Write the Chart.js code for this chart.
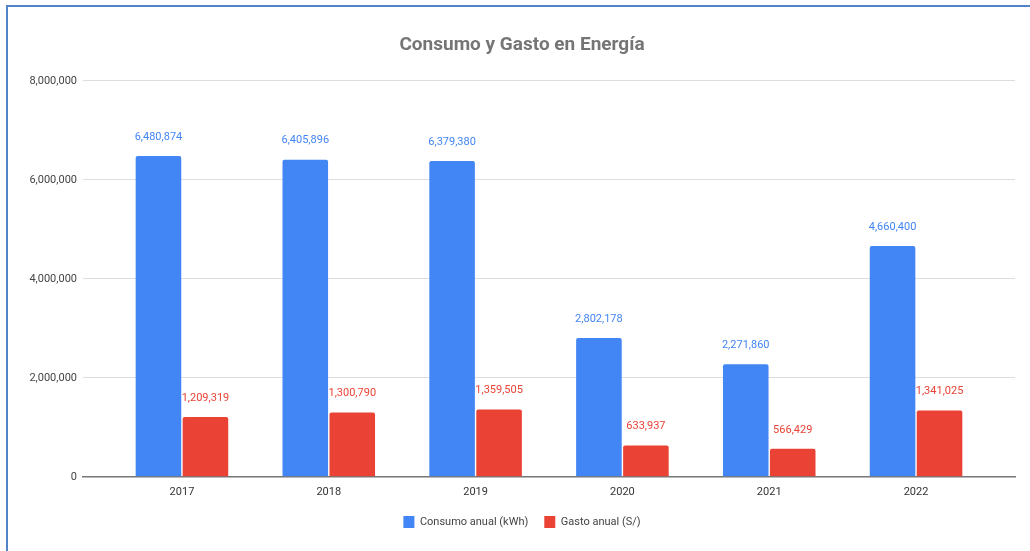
<!DOCTYPE html>
<html>
<head>
<meta charset="utf-8">
<script src="https://cdn.jsdelivr.net/npm/chart.js@4.4.1/dist/chart.umd.min.js"></script>
<style>
  html, body { margin: 0; padding: 0; background: #ffffff; overflow: hidden; }
  #wrap { position: relative; width: 1030px; height: 551px; }
  #frame { position: absolute; left: 6px; top: 5px; right: -10px; bottom: -10px;
           border-left: 2px solid #4f84c6; border-top: 2px solid #4f84c6; pointer-events: none; }
  canvas { position: absolute; left: 0; top: 0; }
</style>
</head>
<body>
<div id="wrap">
  <canvas id="c" width="1030" height="551"></canvas>
  <div id="frame"></div>
</div>
<script>
const years = ['2017', '2018', '2019', '2020', '2021', '2022'];
const consumo = [6480874, 6405896, 6379380, 2802178, 2271860, 4660400];
const gasto = [1209319, 1300790, 1359505, 633937, 566429, 1341025];
const yTicks = [0, 2000000, 4000000, 6000000, 8000000];
const seriesNames = ['Consumo anual (kWh)', 'Gasto anual (S/)'];
const titleText = 'Consumo y Gasto en Energía';

const BLUE = '#4285f4';
const RED = '#ea4335';
const fmt = v => v.toLocaleString('en-US');

const valueLabels = {
  id: 'valueLabels',
  afterDatasetsDraw(chart) {
    const ctx = chart.ctx;
    ctx.save();
    ctx.font = '11px Roboto';
    ctx.textAlign = 'center';
    ctx.textBaseline = 'middle';
    chart.data.datasets.forEach((ds, di) => {
      const meta = chart.getDatasetMeta(di);
      ctx.fillStyle = ds.labelColor;
      meta.data.forEach((bar, i) => {
        ctx.fillText(fmt(ds.data[i].y), bar.x, bar.y - 19);
      });
    });
    ctx.restore();
  }
};

function draw() {
  new Chart(document.getElementById('c'), {
    type: 'bar',
    data: {
      datasets: [
        { label: seriesNames[0], data: consumo.map((v, i) => ({ x: i, y: v })),
          backgroundColor: BLUE, labelColor: BLUE, yAxisID: 'y' },
        { label: seriesNames[1], data: gasto.map((v, i) => ({ x: i, y: v })),
          backgroundColor: RED, labelColor: RED, yAxisID: 'y' }
      ]
    },
    options: {
      responsive: false,
      animation: false,
      devicePixelRatio: 1,
      layout: { padding: { left: 14, right: 0, top: 0, bottom: 13 } },
      datasets: { bar: { categoryPercentage: 0.64, barPercentage: 0.97, borderRadius: 2, borderSkipped: 'bottom' } },
      plugins: {
        title: {
          display: true, text: titleText, color: '#757575',
          font: { family: 'Roboto', size: 19, weight: 'bold' },
          padding: { top: 34, bottom: 24 }
        },
        legend: {
          position: 'bottom',
          labels: {
            font: { family: 'Roboto', size: 11 }, color: '#444444',
            boxWidth: 11, boxHeight: 12, padding: 16
          }
        },
        tooltip: { enabled: false }
      },
      scales: {
        x: {
          type: 'linear',
          offset: false,
          min: -0.674, max: 5.674,
          grid: { display: false },
          border: { display: true, color: '#777777', width: 1.5 },
          afterBuildTicks: axis => { axis.ticks = years.map((y, i) => ({ value: i })); },
          ticks: {
            callback: v => years[v] !== undefined ? years[v] : '',
            font: { family: 'Roboto', size: 11 }, color: '#333333', padding: 1,
            maxRotation: 0, autoSkip: false
          }
        },
        y: {
          position: 'left',
          min: 0, max: 8000000,
          afterBuildTicks: axis => { axis.ticks = yTicks.map(v => ({ value: v })); },
          afterFit: axis => { axis.width = 69; },
          border: { display: false },
          grid: { color: ctx => ctx.tick && ctx.tick.value === 0 ? 'rgba(0,0,0,0)' : '#dddddd', lineWidth: 1, drawTicks: false },
          ticks: {
            callback: v => fmt(v),
            font: { family: 'Roboto', size: 11 }, color: '#444444', padding: 6
          }
        },
        yRight: {
          position: 'right',
          display: true,
          afterFit: axis => { axis.width = 15; },
          grid: { display: false, drawTicks: false },
          border: { display: false },
          ticks: { display: false }
        }
      }
    },
    plugins: [valueLabels]
  });
}

Promise.all([
  document.fonts.load('11px Roboto'),
  document.fonts.load('bold 19px Roboto')
]).then(draw, draw);
</script>
</body>
</html>
